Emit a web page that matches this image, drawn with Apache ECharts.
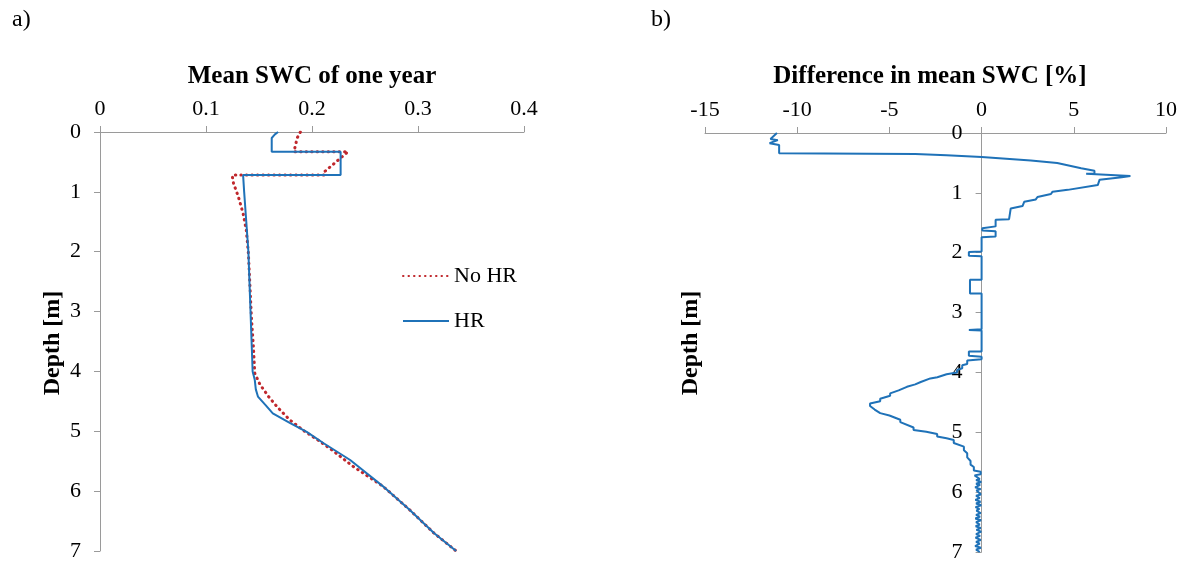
<!DOCTYPE html>
<html>
<head>
<meta charset="utf-8">
<script src="https://cdn.jsdelivr.net/npm/echarts@6/dist/echarts.min.js"></script>
<style>
  html, body { margin: 0; padding: 0; background: #fff; }
  #chart { width: 1183px; height: 563px; }
</style>
</head>
<body>
<div id="chart"></div>
<script>
// Mean soil water content profile (panel a), depth in m
const hrDepth  = [0, 0.04, 0.1, 0.33, 0.33, 0.72, 0.72, 1.0, 1.5, 2.0, 2.5, 3.0, 3.5, 4.0, 4.14, 4.3, 4.42, 4.56, 4.7, 4.86, 5.01, 5.2, 5.48, 5.92, 6.31, 6.7, 7.0];
const hrSwc    = [0.168, 0.165, 0.162, 0.162, 0.227, 0.227, 0.135, 0.136, 0.138, 0.140, 0.141, 0.142, 0.143, 0.144, 0.146, 0.147, 0.149, 0.156, 0.163, 0.179, 0.195, 0.211, 0.236, 0.267, 0.292, 0.315, 0.336];

const noHrDepth = [0, 0.1, 0.33, 0.33, 0.66, 0.72, 0.72, 0.76, 0.86, 1.08, 1.36, 1.64, 2.03, 2.58, 3.14, 3.58, 4.03, 4.22, 4.42, 4.59, 4.81, 5.0, 5.17, 5.31, 5.59, 5.92, 6.31, 6.7, 7.0];
const noHrSwc   = [0.189, 0.186, 0.183, 0.234, 0.212, 0.212, 0.125, 0.125, 0.126, 0.1305, 0.135, 0.138, 0.140, 0.1415, 0.143, 0.1447, 0.146, 0.151, 0.159, 0.167, 0.179, 0.193, 0.2075, 0.2186, 0.239, 0.267, 0.292, 0.315, 0.336];

// Difference in mean SWC between HR and No HR, in % (panel b)
const diffDepth = [
  0.0, 0.1, 0.12, 0.17, 0.2, 0.34, 0.35, 0.37, 0.40, 0.46, 0.5, 0.59, 0.63, 0.68, 0.68, 0.71, 0.72, 0.74, 0.78, 0.87,
  0.95, 0.98, 1.02, 1.07, 1.11, 1.15, 1.22, 1.26, 1.44, 1.45, 1.56, 1.59, 1.63, 1.64, 1.73, 1.74, 1.98, 1.99, 2.05, 2.06,
  2.45, 2.45, 2.68, 2.68, 3.28, 3.29, 3.3, 3.65, 3.65, 3.72, 3.74, 3.78,
  3.80, 3.86, 3.88, 3.93, 3.96, 4.0, 4.03, 4.06, 4.08, 4.10, 4.13, 4.16, 4.2, 4.24, 4.27, 4.3, 4.35, 4.39, 4.44, 4.48, 4.52, 4.56,
  4.62, 4.68, 4.72, 4.79, 4.83, 4.92, 4.96, 4.99, 5.03, 5.07, 5.1, 5.13, 5.18, 5.24, 5.3, 5.35, 5.42, 5.48, 5.54, 5.58, 5.64,
  5.66, 5.70, 5.72, 5.75, 5.78, 5.8, 5.83, 5.86, 5.88, 5.92, 5.95, 5.97, 6.0, 6.04, 6.06, 6.1, 6.13, 6.16, 6.19, 6.22,
  6.25, 6.28, 6.31, 6.35, 6.38, 6.41, 6.44, 6.47, 6.5, 6.54, 6.57, 6.6, 6.63, 6.66, 6.7, 6.73, 6.76, 6.8, 6.83, 6.86,
  6.9, 6.93, 6.96, 7.0
];
const diffValue = [
  -11.1, -11.45, -11.05, -11.5, -10.98, -10.98, -3.6, -1.9, 0, 2.67, 4.1, 5.4, 6.12, 6.12, 5.67, 5.67, 8.07, 7.6, 6.4, 6.3,
  4.67, 3.85, 3.76, 3.03, 2.94, 2.31, 2.22, 1.58, 1.49, 0.76, 0.76, 0.04, 0.04, 0.76, 0.76, 0, 0, -0.69, -0.69, 0,
  0, -0.63, -0.63, 0, 0, -0.69, 0, 0, -0.69, -0.69, 0, 0,
  -0.78, -0.78, -1.05, -1.05, -1.33, -1.33, -1.9, -1.9, -2.4, -2.78, -2.78, -3.3, -3.6, -4.05, -4.05, -4.5, -4.96, -4.96, -5.5, -5.5, -6.05, -6.05,
  -5.8, -5.5, -5.0, -4.41, -4.41, -3.69, -3.69, -3.0, -2.41, -2.41, -1.9, -1.51, -1.51, -0.96, -0.96, -0.78, -0.78, -0.6, -0.6, -0.42, -0.42,
  -0.05, -0.05, -0.38, -0.38, -0.1, -0.3, -0.02, -0.3, -0.08, -0.35, -0.05, -0.28, -0.32, -0.04, -0.3, -0.1, -0.34, -0.06, -0.3, -0.02,
  -0.33, -0.12, -0.28, -0.05, -0.3, -0.08, -0.34, -0.03, -0.3, -0.1, -0.32, -0.05, -0.28, -0.02, -0.3, -0.08, -0.33, -0.05, -0.3, -0.1,
  -0.35, -0.04, -0.3, -0.1
];

const swcTicks  = { min: 0, max: 0.4, interval: 0.1 };
const diffTicks = { min: -15, max: 10, interval: 5 };
const depthTicks = { min: 0, max: 7, interval: 1 };

const BLUE = '#1f72b8';
const RED = '#c0282d';
const AXIS = '#9a9a9a';
const FONT = '"Liberation Serif", "DejaVu Serif", serif';

const W = 1183;
const gridA = { left: 100, right: 659, top: 132, bottom: 12 };
const gridB = { left: 705, right: 17, top: 133, bottom: 11 };

// panel b: the depth axis sits on the zero line of the difference axis
const gridBWidth = W - gridB.left - gridB.right;
const zeroOffset = -(0 - diffTicks.min) / (diffTicks.max - diffTicks.min) * gridBWidth;

const zip = (xs, ys) => xs.map((x, i) => [x, ys[i]]);

const tickLabel = { fontFamily: FONT, fontSize: 22, color: '#000' };

function xAxisCfg(grid, range) {
  return {
    type: 'value', gridIndex: grid, position: 'top',
    min: range.min, max: range.max, interval: range.interval,
    axisLine: { show: true, onZero: false, lineStyle: { color: AXIS, width: 1 } },
    axisTick: { show: true, length: 6, lineStyle: { color: AXIS } },
    splitLine: { show: false },
    axisLabel: Object.assign({ margin: 12 }, tickLabel)
  };
}
function yAxisCfg(grid, offset) {
  return {
    type: 'value', gridIndex: grid, inverse: true, position: 'left', offset: offset,
    min: depthTicks.min, max: depthTicks.max, interval: depthTicks.interval,
    axisLine: { show: true, onZero: false, lineStyle: { color: AXIS, width: 1 } },
    axisTick: { show: true, length: 6, lineStyle: { color: AXIS } },
    splitLine: { show: false },
    axisLabel: Object.assign({ margin: 19 }, tickLabel)
  };
}

const titleStyle = { fontFamily: FONT, fontSize: 25, fontWeight: 'bold', fill: '#000', align: 'center', verticalAlign: 'middle' };
const nameStyle = { fontFamily: FONT, fontSize: 24, fontWeight: 'bold', fill: '#000', align: 'center', verticalAlign: 'middle' };

const chart = echarts.init(document.getElementById('chart'), null, { renderer: 'canvas' });
chart.setOption({
  backgroundColor: '#fff',
  animation: false,
  grid: [gridA, gridB],
  xAxis: [xAxisCfg(0, swcTicks), xAxisCfg(1, diffTicks)],
  yAxis: [yAxisCfg(0, 0), yAxisCfg(1, zeroOffset)],
  legend: {
    data: ['No HR', 'HR'],
    orient: 'vertical',
    left: 397, top: 260,
    itemGap: 23,
    itemWidth: 46, itemHeight: 14,
    itemStyle: { opacity: 0 },
    textStyle: { fontFamily: FONT, fontSize: 22, color: '#000' }
  },
  graphic: [
    { type: 'text', left: 12, top: 8, style: { text: 'a)', fontFamily: FONT, fontSize: 24, fill: '#000' } },
    { type: 'text', left: 651, top: 8, style: { text: 'b)', fontFamily: FONT, fontSize: 24, fill: '#000' } },
    { type: 'text', x: 312, y: 77, style: Object.assign({ text: 'Mean SWC of one year' }, titleStyle) },
    { type: 'text', x: 930, y: 77, style: Object.assign({ text: 'Difference in mean SWC [%]' }, titleStyle) },
    { type: 'text', x: 53, y: 343, rotation: Math.PI / 2, style: Object.assign({ text: 'Depth [m]' }, nameStyle) },
    { type: 'text', x: 691, y: 343, rotation: Math.PI / 2, style: Object.assign({ text: 'Depth [m]' }, nameStyle) }
  ],
  series: [
    {
      name: 'No HR', type: 'line', xAxisIndex: 0, yAxisIndex: 0,
      data: zip(noHrSwc, noHrDepth), symbol: 'none', z: 2,
      itemStyle: { color: RED },
      lineStyle: { color: RED, width: 3, type: [0.5, 5], cap: 'round' }
    },
    {
      name: 'HR', type: 'line', xAxisIndex: 0, yAxisIndex: 0,
      data: zip(hrSwc, hrDepth), symbol: 'none', z: 3,
      itemStyle: { color: BLUE },
      lineStyle: { color: BLUE, width: 2 }
    },
    {
      name: 'Difference', type: 'line', xAxisIndex: 1, yAxisIndex: 1,
      data: zip(diffValue, diffDepth), symbol: 'none', z: 3,
      itemStyle: { color: BLUE },
      lineStyle: { color: BLUE, width: 2 }
    }
  ]
});
</script>
</body>
</html>
